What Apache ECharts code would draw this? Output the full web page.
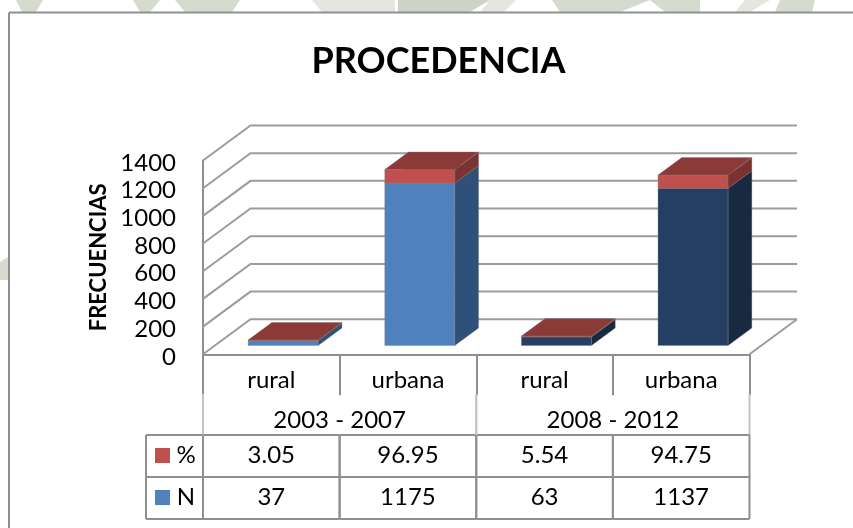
<!DOCTYPE html>
<html>
<head>
<meta charset="utf-8">
<title>PROCEDENCIA</title>
<script src="https://cdn.jsdelivr.net/npm/echarts@6/dist/echarts.min.js"></script>
<style>
  html, body { margin: 0; padding: 0; background: #fff; }
  #chart { width: 853px; height: 528px; }
</style>
</head>
<body>
<div id="chart"></div>
<script>
const categories = ['rural', 'urbana', 'rural', 'urbana'];
const periods = ['2003 - 2007', '2008 - 2012'];
const seriesN = [37, 1175, 63, 1137];
const seriesPct = [3.05, 96.95, 5.54, 94.75];
const yTicks = [0, 200, 400, 600, 800, 1000, 1200, 1400];

const FONT = 'Lato';
const LINE = '#8f8f8f';
// perspectiva falsa 3D
const DX = 47.5, DY = -35;
const BAR_FRONT = 0.25, BAR_DEPTH = 0.5, BAR_WIDTH = 0.513;
// filas de la tabla
const ROW_TOP = 435, ROW_MID = 477, ROW_BOTTOM = 519, LEGEND_X = 146;

const blue = { front: '#4f81bd', side: '#2f5078' };
const navy = { front: '#243f63', side: '#182a40' };
const red = { front: '#c0504d', side: '#7b3331', top: '#8c3a38' };

function polygon(points, fill) {
  return {
    type: 'polygon',
    shape: { points: points },
    style: { fill: fill, stroke: 'rgba(130,130,130,0.45)', lineWidth: 0.8 }
  };
}

// lineas de la pared del fondo y etiqueta de cada tick
function renderWall(params, api) {
  const x0 = params.coordSys.x, w = params.coordSys.width;
  const y = api.coord([0, api.value(0)])[1];
  const style = { stroke: '#9c9c9c', lineWidth: 2, fill: 'none' };
  const children = [
    {
      type: 'polyline',
      shape: { points: [[x0, y], [x0 + DX, y + DY], [x0 + w + DX, y + DY]] },
      style: style
    },
    {
      type: 'text',
      style: {
        text: String(api.value(0)), x: x0 - 27, y: y + 2.5,
        align: 'right', verticalAlign: 'middle', font: '24px ' + FONT, fill: '#000'
      }
    }
  ];
  if (api.value(0) === 0) {
    children.push({
      type: 'line',
      shape: { x1: x0 + w, y1: y, x2: x0 + w + DX, y2: y + DY },
      style: style
    });
  }
  return { type: 'group', children: children };
}

function renderBar(params, api) {
  const i = api.value(0);
  const base = api.coord([i, api.value(1)]);
  const top = api.coord([i, api.value(2)]);
  const bw = api.size([1, 0])[0] * BAR_WIDTH;
  const colors = params.seriesIndex === 1 ? (i < 2 ? blue : navy) : red;
  const x1 = base[0] - bw / 2 + DX * BAR_FRONT;
  const x2 = x1 + bw;
  const yb = base[1] + DY * BAR_FRONT;
  const yt = top[1] + DY * BAR_FRONT;
  const ox = DX * BAR_DEPTH, oy = DY * BAR_DEPTH;
  return {
    type: 'group',
    children: [
      polygon([[x1, yb], [x2, yb], [x2, yt], [x1, yt]], colors.front),
      polygon([[x2, yb], [x2 + ox, yb + oy], [x2 + ox, yt + oy], [x2, yt]], colors.side),
      polygon([[x1, yt], [x2, yt], [x2 + ox, yt + oy], [x1 + ox, yt + oy]], red.top)
    ]
  };
}

function cellText(text, x, y) {
  return {
    type: 'text',
    style: { text: text, x: x, y: y, align: 'center', verticalAlign: 'middle', font: '24px ' + FONT, fill: '#000' }
  };
}

function tableLine(x1, y1, x2, y2, color) {
  return { type: 'line', shape: { x1: x1, y1: y1, x2: x2, y2: y2 }, style: { stroke: color || LINE, lineWidth: 2 } };
}

function renderTable(params, api) {
  const i = api.value(0);
  const band = api.size([1, 0])[0];
  const cx = api.coord([i, 0])[0];
  const x0 = cx - band / 2, x1 = cx + band / 2;
  const yMid1 = (ROW_TOP + ROW_MID) / 2 - 1, yMid2 = (ROW_MID + ROW_BOTTOM) / 2 - 1;
  const children = [
    tableLine(x0, ROW_TOP, x1, ROW_TOP),
    tableLine(x0, ROW_MID, x1, ROW_MID),
    tableLine(x0, ROW_BOTTOM, x1, ROW_BOTTOM),
    tableLine(x0, ROW_TOP, x0, ROW_BOTTOM),
    tableLine(x1, ROW_TOP, x1, ROW_BOTTOM),
    cellText(String(seriesPct[i]), cx, yMid1),
    cellText(String(seriesN[i]), cx, yMid2)
  ];
  if (i % 2 === 0) {
    children.push(
      tableLine(x0, ROW_TOP - 41, x0, ROW_TOP, '#c4c4c4'),
      tableLine(x1 + band, ROW_TOP - 41, x1 + band, ROW_TOP, '#c4c4c4'),
      cellText(periods[i / 2], x1, 420)
    );
  }
  if (i === 0) {
    children.push(
      tableLine(LEGEND_X, ROW_TOP, x0, ROW_TOP),
      tableLine(LEGEND_X, ROW_MID, x0, ROW_MID),
      tableLine(LEGEND_X, ROW_BOTTOM, x0, ROW_BOTTOM),
      tableLine(LEGEND_X, ROW_TOP, LEGEND_X, ROW_BOTTOM),
      { type: 'rect', shape: { x: 155, y: 448, width: 15, height: 15 }, style: { fill: red.front } },
      { type: 'rect', shape: { x: 155, y: 490, width: 15, height: 15 }, style: { fill: blue.front } },
      cellText('%', 186, yMid1),
      cellText('N', 186, yMid2)
    );
  }
  return { type: 'group', children: children };
}

// marca de agua del fondo, solo asoma por los bordes
const WM = '#d6dbd0';
function wm(points, fill) {
  return { type: 'polygon', silent: true, shape: { points: points }, style: { fill: fill || WM } };
}

const chart = echarts.init(document.getElementById('chart'), null, { renderer: 'canvas' });

chart.setOption({
  animation: false,
  backgroundColor: '#fff',
  textStyle: { fontFamily: FONT },
  title: {
    text: 'PROCEDENCIA',
    left: 433.5,
    top: 38,
    textAlign: 'center',
    textStyle: { fontFamily: FONT, fontSize: 36, fontWeight: 'bold', color: '#000' }
  },
  grid: { left: 203, right: 103.5, top: 160.5, bottom: 173.7 },
  xAxis: {
    type: 'category',
    data: categories,
    axisLine: { lineStyle: { color: LINE, width: 2 } },
    axisTick: { show: true, length: 41, lineStyle: { color: LINE, width: 2 } },
    axisLabel: { fontFamily: FONT, fontSize: 24, color: '#000', margin: 14, interval: 0 }
  },
  yAxis: {
    type: 'value',
    min: 0,
    max: 1400,
    interval: 200,
    name: 'FRECUENCIAS',
    nameLocation: 'middle',
    nameGap: 93,
    nameTextStyle: { fontFamily: FONT, fontSize: 22, fontWeight: 'bold', color: '#000' },
    axisLine: { show: true, lineStyle: { color: LINE, width: 2 } },
    axisTick: { show: false },
    splitLine: { show: false },
    axisLabel: { show: false }
  },
  series: [
    {
      name: 'pared',
      type: 'custom',
      silent: true,
      renderItem: renderWall,
      data: yTicks.map(v => [v]),
      encode: { x: -1, y: 0 }
    },
    {
      name: 'N',
      type: 'custom',
      renderItem: renderBar,
      data: seriesN.map((v, i) => [i, 0, v]),
      encode: { x: 0, y: [1, 2] }
    },
    {
      name: '%',
      type: 'custom',
      renderItem: renderBar,
      data: seriesPct.map((v, i) => [i, seriesN[i], seriesN[i] + v]),
      encode: { x: 0, y: [1, 2] }
    },
    {
      name: 'tabla',
      type: 'custom',
      silent: true,
      renderItem: renderTable,
      data: categories.map((c, i) => [i]),
      encode: { x: 0, y: -1 }
    }
  ],
  graphic: [
    wm([[16, 0], [43, 0], [36, 12], [22, 12]]),
    wm([[133, 0], [160, 0], [150, 12], [140, 12]]),
    wm([[175, 0], [240, 0], [232, 12], [185, 12]]),
    wm([[312, 0], [395, 0], [395, 12], [322, 12]], '#e3e7e0'),
    wm([[398, 0], [490, 0], [470, 12], [398, 12]], '#cdd3c6'),
    wm([[490, 0], [516, 0], [504, 12], [480, 12]], '#e3e7e0'),
    wm([[552, 0], [650, 0], [620, 12], [560, 12]]),
    wm([[650, 0], [700, 0], [700, 12], [665, 12]]),
    wm([[745, 0], [770, 0], [750, 12], [735, 12]], '#e3e7e0'),
    wm([[780, 0], [815, 0], [812, 12], [775, 12]]),
    wm([[0, 262], [8, 257], [8, 280], [0, 280]]),
    { type: 'line', silent: true, shape: { x1: 9, y1: 12.5, x2: 853, y2: 12.5 }, style: { stroke: LINE, lineWidth: 2 } },
    { type: 'line', silent: true, shape: { x1: 9, y1: 12.5, x2: 9, y2: 528 }, style: { stroke: LINE, lineWidth: 2 } }
  ]
});

window.addEventListener('resize', () => chart.resize());
</script>
</body>
</html>
